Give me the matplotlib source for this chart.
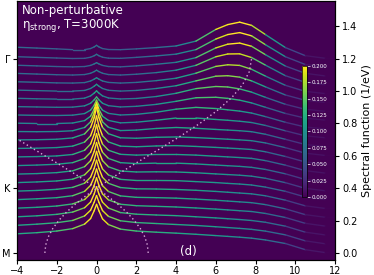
import numpy as np
import matplotlib.pyplot as plt
from matplotlib.collections import LineCollection
from matplotlib.cm import ScalarMappable

omega = [-4, -3, -2, -1.2, -0.6, -0.3, -0.12, 0, 0.12, 0.3, 0.6, 1.2, 2, 3, 4,
         5, 6, 6.6, 7.2, 7.8, 8.5, 9.5, 10.5, 11.5, 12]

# k-path position of every curve (M=0, K=0.4, Gamma=1.2)
offsets = [0.0, 0.0545, 0.1091, 0.1636, 0.2182, 0.2727, 0.3273, 0.3818,
           0.4364, 0.4909, 0.5455, 0.6, 0.6545, 0.7091, 0.7636, 0.8182,
           0.8727, 0.9273, 0.9818, 1.0364, 1.0909, 1.1455, 1.2]

# spectral function (1/eV), bottom curve (M) first
spec_00 = [0.118, 0.125, 0.135, 0.150, 0.178, 0.212, 0.260, 0.300, 0.260, 0.210, 0.175, 0.147, 0.135, 0.128, 0.122, 0.115, 0.107, 0.102, 0.097, 0.091, 0.080, 0.058, 0.020, 0.002, 0.0]
spec_01 = [0.116, 0.123, 0.132, 0.146, 0.174, 0.209, 0.258, 0.300, 0.258, 0.207, 0.171, 0.144, 0.133, 0.127, 0.121, 0.115, 0.107, 0.102, 0.097, 0.091, 0.080, 0.057, 0.020, 0.002, 0.0]
spec_02 = [0.114, 0.120, 0.129, 0.143, 0.170, 0.205, 0.255, 0.300, 0.255, 0.204, 0.168, 0.140, 0.130, 0.125, 0.121, 0.114, 0.107, 0.102, 0.097, 0.091, 0.080, 0.056, 0.019, 0.002, 0.0]
spec_03 = [0.113, 0.118, 0.126, 0.139, 0.166, 0.202, 0.253, 0.300, 0.253, 0.200, 0.164, 0.137, 0.128, 0.124, 0.120, 0.114, 0.107, 0.102, 0.097, 0.092, 0.080, 0.055, 0.019, 0.002, 0.0]
spec_04 = [0.111, 0.116, 0.123, 0.135, 0.162, 0.199, 0.251, 0.300, 0.251, 0.197, 0.161, 0.134, 0.125, 0.123, 0.120, 0.114, 0.107, 0.102, 0.097, 0.092, 0.080, 0.054, 0.018, 0.002, 0.0]
spec_05 = [0.109, 0.113, 0.120, 0.132, 0.158, 0.195, 0.249, 0.300, 0.249, 0.194, 0.157, 0.131, 0.123, 0.122, 0.119, 0.114, 0.107, 0.102, 0.097, 0.092, 0.080, 0.053, 0.018, 0.002, 0.0]
spec_06 = [0.107, 0.111, 0.117, 0.128, 0.155, 0.192, 0.246, 0.300, 0.246, 0.191, 0.154, 0.127, 0.120, 0.120, 0.119, 0.113, 0.107, 0.102, 0.098, 0.092, 0.079, 0.053, 0.018, 0.002, 0.0]
spec_07 = [0.105, 0.108, 0.114, 0.125, 0.151, 0.188, 0.244, 0.300, 0.244, 0.188, 0.150, 0.124, 0.118, 0.119, 0.118, 0.113, 0.106, 0.102, 0.098, 0.092, 0.079, 0.052, 0.017, 0.002, 0.0]
spec_08 = [0.103, 0.106, 0.111, 0.121, 0.147, 0.185, 0.242, 0.300, 0.242, 0.185, 0.147, 0.121, 0.115, 0.118, 0.118, 0.113, 0.106, 0.102, 0.098, 0.092, 0.079, 0.052, 0.017, 0.002, 0.0]
spec_09 = [0.102, 0.104, 0.108, 0.117, 0.143, 0.182, 0.240, 0.300, 0.240, 0.181, 0.143, 0.118, 0.113, 0.117, 0.117, 0.113, 0.106, 0.102, 0.098, 0.093, 0.079, 0.051, 0.017, 0.002, 0.0]
spec_10 = [0.100, 0.101, 0.105, 0.114, 0.139, 0.178, 0.237, 0.300, 0.237, 0.178, 0.140, 0.114, 0.110, 0.115, 0.117, 0.112, 0.106, 0.102, 0.098, 0.093, 0.079, 0.050, 0.016, 0.002, 0.0]
spec_11 = [0.098, 0.099, 0.102, 0.110, 0.135, 0.175, 0.235, 0.300, 0.235, 0.175, 0.136, 0.111, 0.108, 0.114, 0.116, 0.112, 0.106, 0.102, 0.098, 0.093, 0.079, 0.050, 0.016, 0.002, 0.0]
spec_12 = [0.095, 0.094, 0.095, 0.100, 0.120, 0.155, 0.210, 0.270, 0.210, 0.155, 0.121, 0.101, 0.104, 0.114, 0.120, 0.115, 0.108, 0.104, 0.100, 0.094, 0.078, 0.047, 0.015, 0.002, 0.0]
spec_13 = [0.092, 0.090, 0.090, 0.093, 0.108, 0.135, 0.178, 0.220, 0.178, 0.135, 0.109, 0.094, 0.098, 0.110, 0.124, 0.124, 0.115, 0.110, 0.104, 0.096, 0.078, 0.045, 0.014, 0.002, 0.0]
spec_14 = [0.088, 0.086, 0.085, 0.087, 0.097, 0.118, 0.148, 0.180, 0.148, 0.118, 0.098, 0.088, 0.092, 0.105, 0.124, 0.135, 0.128, 0.120, 0.112, 0.100, 0.078, 0.043, 0.014, 0.002, 0.0]
spec_15 = [0.085, 0.083, 0.081, 0.082, 0.090, 0.106, 0.127, 0.145, 0.127, 0.106, 0.091, 0.083, 0.087, 0.099, 0.118, 0.140, 0.143, 0.136, 0.125, 0.108, 0.081, 0.043, 0.014, 0.002, 0.0]
spec_16 = [0.082, 0.079, 0.077, 0.077, 0.083, 0.097, 0.114, 0.128, 0.114, 0.097, 0.084, 0.078, 0.081, 0.093, 0.113, 0.142, 0.155, 0.152, 0.140, 0.120, 0.088, 0.045, 0.014, 0.002, 0.0]
spec_17 = [0.078, 0.075, 0.072, 0.072, 0.076, 0.088, 0.102, 0.114, 0.102, 0.088, 0.077, 0.072, 0.076, 0.088, 0.105, 0.135, 0.164, 0.167, 0.158, 0.135, 0.098, 0.048, 0.015, 0.002, 0.0]
spec_18 = [0.075, 0.072, 0.068, 0.067, 0.070, 0.080, 0.091, 0.100, 0.091, 0.080, 0.071, 0.067, 0.071, 0.082, 0.097, 0.128, 0.170, 0.180, 0.176, 0.152, 0.110, 0.053, 0.016, 0.002, 0.0]
spec_19 = [0.072, 0.068, 0.064, 0.062, 0.065, 0.073, 0.083, 0.092, 0.083, 0.073, 0.065, 0.062, 0.067, 0.077, 0.092, 0.122, 0.175, 0.192, 0.193, 0.170, 0.123, 0.058, 0.017, 0.002, 0.0]
spec_20 = [0.068, 0.064, 0.060, 0.058, 0.060, 0.067, 0.076, 0.084, 0.076, 0.067, 0.060, 0.058, 0.064, 0.074, 0.086, 0.115, 0.175, 0.198, 0.205, 0.185, 0.133, 0.063, 0.018, 0.002, 0.0]
spec_21 = [0.066, 0.062, 0.058, 0.055, 0.056, 0.063, 0.072, 0.081, 0.072, 0.063, 0.057, 0.056, 0.062, 0.071, 0.082, 0.110, 0.175, 0.203, 0.215, 0.195, 0.140, 0.066, 0.018, 0.002, 0.0]
spec_22 = [0.070, 0.065, 0.060, 0.055, 0.055, 0.062, 0.072, 0.082, 0.072, 0.062, 0.056, 0.055, 0.060, 0.068, 0.078, 0.108, 0.180, 0.210, 0.225, 0.205, 0.148, 0.068, 0.018, 0.002, 0.0]

curves = [spec_00, spec_01, spec_02, spec_03, spec_04, spec_05, spec_06, spec_07,
          spec_08, spec_09, spec_10, spec_11, spec_12, spec_13, spec_14, spec_15,
          spec_16, spec_17, spec_18, spec_19, spec_20, spec_21, spec_22]

# bare band (dotted), |E| along the path
band_k = [0.0, 0.05, 0.1, 0.15, 0.2, 0.25, 0.3, 0.35, 0.4,
          0.48, 0.56, 0.64, 0.72, 0.8, 0.88, 0.96, 1.04, 1.12, 1.2]
band_e = [2.6, 2.555, 2.423, 2.204, 1.903, 1.525, 1.077, 0.566, 0.0,
          0.993, 2.056, 3.144, 4.207, 5.2, 6.079, 6.807, 7.35, 7.686, 7.8]

path_ticks = [0.0, 0.4, 1.2]
path_labels = ['M', 'K', 'Γ']


def main():
    fig = plt.figure(figsize=(3.74, 2.75), dpi=100)
    ax = fig.add_axes([0.0455, 0.055, 0.8505, 0.941])
    ax.set_facecolor(plt.cm.viridis(0))
    norm = plt.Normalize(0, 0.2)

    w = np.array(omega, dtype=float)
    for off, a in zip(offsets, curves):
        a = np.array(a)
        pts = np.column_stack([w, a + off])
        segs = np.stack([pts[:-1], pts[1:]], axis=1)
        lc = LineCollection(segs, cmap='viridis', norm=norm, linewidths=1.0,
                            capstyle='round')
        lc.set_array((a[:-1] + a[1:]) / 2)
        ax.add_collection(lc)

    be = np.array(band_e)
    for sgn in [1, -1]:
        ax.plot(sgn * be, band_k, ls=(0, (1, 2)), color='#d6a9d8', lw=1.0)

    ylim = (-0.043, 1.555)
    ax.set_xlim(-4, 12)
    ax.set_ylim(*ylim)
    ax.set_xticks(np.arange(-4, 13, 2))
    ax.set_yticks(path_ticks)
    ax.set_yticklabels(path_labels)
    ax.tick_params(labelsize=7, length=3, pad=1.5)

    ax2 = ax.twinx()
    ax2.set_ylim(*ylim)
    ax2.set_yticks(np.arange(0, 1.41, 0.2))
    ax2.tick_params(labelsize=7, length=3, pad=2)
    ax2.set_ylabel('Spectral function (1/eV)', fontsize=8, labelpad=3)

    ax.text(0.016, 0.95, 'Non-perturbative', transform=ax.transAxes,
            color='white', fontsize=8.5, va='baseline')
    ax.text(0.016, 0.897, r'$\mathregular{\eta_{strong}}$, T=3000K',
            transform=ax.transAxes, color='white', fontsize=8.5, va='baseline')
    ax.text(4.6, 0.01, '(d)', color='white', fontsize=8.5, ha='center', va='center')

    cax = fig.add_axes([0.8075, 0.284, 0.0134, 0.476])
    sm = ScalarMappable(norm=norm, cmap='viridis')
    cb = fig.colorbar(sm, cax=cax)
    cb.set_ticks(np.arange(0, 0.2001, 0.025))
    cb.ax.set_yticklabels(['%.3f' % t for t in np.arange(0, 0.2001, 0.025)])
    cax.tick_params(labelsize=4, colors='white', length=2, width=0.5, pad=1.5)
    cb.outline.set_linewidth(0.5)

    fig.savefig('out.png', dpi=100)


if __name__ == '__main__':
    main()
